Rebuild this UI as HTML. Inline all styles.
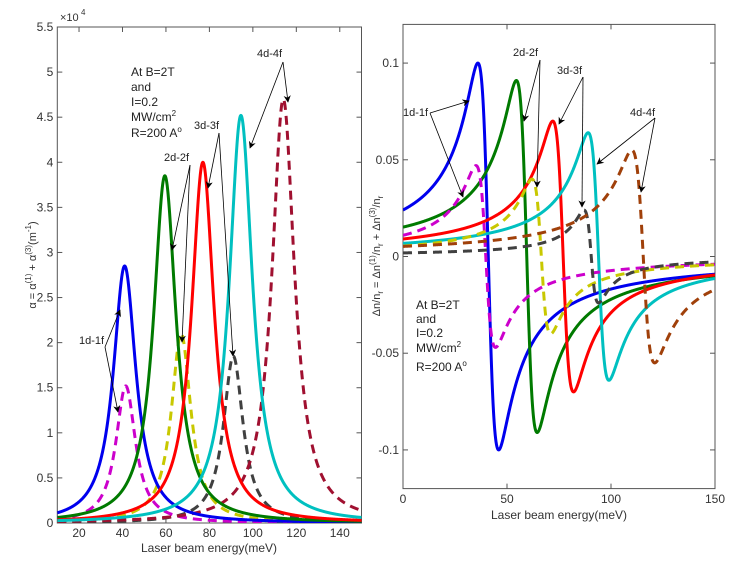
<!DOCTYPE html>
<html><head><meta charset="utf-8"><style>
body{margin:0;background:#fff;}
svg text{font-family:"Liberation Sans",sans-serif;}
</style></head><body>
<svg id="c" width="736" height="559" xmlns="http://www.w3.org/2000/svg"></svg>
<script>
// ---- Left panel data: absorption peaks (x1e4 m^-1) ----
const leftNames = ["1d-1f","1d-1f (3rd)","2d-2f","2d-2f (3rd)","3d-3f","3d-3f (3rd)","4d-4f","4d-4f (3rd)"];
const leftCenters = [41, 41.5, 59.5, 67, 77, 91, 94.5, 114];
const leftHeights = [2.85, 1.52, 3.85, 2.1, 4.0, 1.85, 4.52, 4.7];
const leftWidths = [6.3, 5.5, 6.3, 5.5, 6.3, 5.5, 6.5, 6.3];
const seriesColors = ["#0000ee","#cc00cc","#007a00","#c8c800","#ff0000","#404040","#00c0c0","#a01030"];
const seriesDashed = [false,true,false,true,false,true,false,true];
const leftXTicks = [20,40,60,80,100,120,140];
const leftYTicks = [0,0.5,1,1.5,2,2.5,3,3.5,4,4.5,5,5.5];
// ---- Right panel data: refractive index change ----
const rightCenters = [41, 39.8, 59.5, 66.5, 77, 90.5, 94, 115.5];
const rightPeaks = [0.1, 0.047, 0.091, 0.04, 0.07, 0.024, 0.064, 0.055];
const rightWidths = [5, 4.7, 5, 4.5, 5, 3.5, 5, 5.5];
const rightColors = ["#0000ee","#cc00cc","#007a00","#c8c800","#ff0000","#404040","#00c0c0","#a0400a"];
const rightXTicks = [0,50,100,150];
const rightYTicks = [-0.1,-0.05,0,0.05,0.1];

const svg=document.getElementById('c');
const NS="http://www.w3.org/2000/svg";
function mk(tag,attrs,parent){const e=document.createElementNS(NS,tag);for(const k in attrs)e.setAttribute(k,attrs[k]);(parent||svg).appendChild(e);return e;}
function txt(x,y,s,opt,name){const t=mk('text',Object.assign({x:x,y:y,'font-size':12,fill:'#222'},opt||{}));t.textContent=s;


return t;}

const L={x0:57.3,x1:361.5,y0:523,y1:27,xmin:10,xmax:150,ymin:0,ymax:5.5};
const R={x0:403,x1:715,y0:488.6,y1:24.4,xmin:0,xmax:150,ymin:-0.12,ymax:0.12};
function sx(A,v){return A.x0+(v-A.xmin)/(A.xmax-A.xmin)*(A.x1-A.x0);}
function sy(A,v){return A.y0-(v-A.ymin)/(A.ymax-A.ymin)*(A.y0-A.y1);}

function axes(A,xt,yt,fmt,name,xlabY){
  const g=mk('g',{});
  
  
  mk('rect',{x:A.x0,y:A.y1,width:A.x1-A.x0,height:A.y0-A.y1,fill:'none',stroke:'#555','stroke-width':1},g);
  xt.forEach(v=>{const x=sx(A,v);
    mk('line',{x1:x,y1:A.y0,x2:x,y2:A.y0-5,stroke:'#555'},g);
    mk('line',{x1:x,y1:A.y1,x2:x,y2:A.y1+5,stroke:'#555'},g);
    txt(x,xlabY,String(v),{'text-anchor':'middle','font-size':12,fill:'#333'},'x-tick-label');});
  yt.forEach(v=>{const y=sy(A,v);
    mk('line',{x1:A.x0,y1:y,x2:A.x0+5,y2:y,stroke:'#555'},g);
    mk('line',{x1:A.x1,y1:y,x2:A.x1-5,y2:y,stroke:'#555'},g);
    txt(A.x0-4,y+4,fmt(v),{'text-anchor':'end','font-size':12,fill:'#333'},'y-tick-label');});
}
axes(L,leftXTicks,leftYTicks,v=>String(v),'left-axes',537);
axes(R,rightXTicks,rightYTicks,v=>String(v),'right-axes',503);
txt(60,21,'×10',{'font-size':11,fill:'#333'},'y-scale-factor');
txt(81,15,'4',{'font-size':8,fill:'#333'},'y-scale-exponent');

function drawSeries(A,f,color,dashed,name,clip){
  let d='';
  for(let i=0;i<=1400;i++){const e=A.xmin+(A.xmax-A.xmin)*i/1400;const v=f(e);
    d+=(i?'L':'M')+sx(A,e).toFixed(2)+','+sy(A,v).toFixed(2);}
  const p=mk('path',{d:d,fill:'none',stroke:color,'stroke-width':3,'stroke-linejoin':'round','clip-path':clip});
  if(dashed)p.setAttribute('stroke-dasharray','9,6');
  
  
}
mk('clipPath',{id:'cl'}).appendChild(document.createElementNS(NS,'rect'));
const cl=document.querySelector('#cl rect');cl.setAttribute('x',L.x0);cl.setAttribute('y',L.y1);cl.setAttribute('width',L.x1-L.x0);cl.setAttribute('height',L.y0-L.y1);
mk('clipPath',{id:'cr'}).appendChild(document.createElementNS(NS,'rect'));
const cr=document.querySelector('#cr rect');cr.setAttribute('x',R.x0);cr.setAttribute('y',R.y1);cr.setAttribute('width',R.x1-R.x0);cr.setAttribute('height',R.y0-R.y1);

const order=[1,3,5,7,0,2,4,6];
order.forEach(i=>{
  drawSeries(L,e=>leftHeights[i]/(1+Math.pow((e-leftCenters[i])/leftWidths[i],2)),seriesColors[i],seriesDashed[i],'left-curve-'+leftNames[i].replace(/[^a-z0-9]+/gi,'-'),'url(#cl)');
});
[0,2,4,6,1,3,5,7].forEach(i=>{
  const g=rightWidths[i],A=2*g*rightPeaks[i];
  drawSeries(R,e=>A*(rightCenters[i]-e)/((e-rightCenters[i])**2+g*g),rightColors[i],seriesDashed[i],'right-curve-'+leftNames[i].replace(/[^a-z0-9]+/gi,'-'),'url(#cr)');
});

mk('defs',{}).innerHTML='<marker id="ah" viewBox="0 0 10 10" refX="9" refY="5" markerWidth="9" markerHeight="9" orient="auto"><path d="M0,0 L10,5 L0,10 L3,5 z" fill="#000"/></marker>';
function arrow(x1,y1,x2,y2){const l=mk('line',{x1:x1,y1:y1,x2:x2,y2:y2,stroke:'#000','stroke-width':0.8,'marker-end':'url(#ah)'});

}
txt(257,57,'4d-4f',{'font-size':11},'label-4d-4f');arrow(283,62,250,148);arrow(283,62,288,102);
txt(194,129,'3d-3f',{'font-size':11},'label-3d-3f');arrow(219,133,208,188);arrow(219,133,233,356);
txt(164,161,'2d-2f',{'font-size':11},'label-2d-2f');arrow(190,165,172,250);arrow(190,165,182,342);
txt(79,344,'1d-1f',{'font-size':11},'label-1d-1f');arrow(105,347,120,310);arrow(105,347,118,412);

function cond(x,ys,name){
  const t=[['At B=2T'],['and'],['I=0.2'],['MW/cm','2'],['R=200 A','o']];
  t.forEach((a,k)=>{const e=txt(x,ys[k],a[0],{'font-size':12},name);
    if(a[1]){const s=document.createElementNS(NS,'tspan');s.setAttribute('dy','-5');s.setAttribute('font-size','8');s.textContent=a[1];e.appendChild(s);}});
}
cond(131,[76,91,106,121,137],'condition-text');

txt(403,116,'1d-1f',{'font-size':11},'label-1d-1f-right');arrow(430,113,469,101);arrow(430,113,463,197);
txt(513,56,'2d-2f',{'font-size':11},'label-2d-2f-right');arrow(540,60,524,121);arrow(540,60,537,187);
txt(557,74,'3d-3f',{'font-size':11},'label-3d-3f-right');arrow(583,77,559,124);arrow(583,77,582,207);
txt(630,116,'4d-4f',{'font-size':11},'label-4d-4f-right');arrow(655,118,597,164);arrow(655,118,641,192);
cond(416,[309,323,337,352,371],'condition-text-right');

txt(209,552,'Laser beam energy(meV)',{'text-anchor':'middle','font-size':12,fill:'#333'},'left-x-axis-title');
txt(559,519,'Laser beam energy(meV)',{'text-anchor':'middle','font-size':12,fill:'#333'},'right-x-axis-title');
const yl=txt(0,0,'',{'text-anchor':'middle','font-size':11,fill:'#333',transform:'translate(36,265) rotate(-90)'},'left-y-axis-title');
yl.innerHTML='α = α<tspan dy="-5" font-size="8">(1)</tspan><tspan dy="5"> + α</tspan><tspan dy="-5" font-size="8">(3)</tspan><tspan dy="5">(m</tspan><tspan dy="-5" font-size="8">-1</tspan><tspan dy="5">)</tspan>';
const yr=txt(0,0,'',{'text-anchor':'middle','font-size':11,fill:'#333',transform:'translate(380,256) rotate(-90)'},'right-y-axis-title');
yr.innerHTML='Δn/n<tspan dy="3" font-size="8">r</tspan><tspan dy="-3"> = Δn</tspan><tspan dy="-5" font-size="8">(1)</tspan><tspan dy="5">/n</tspan><tspan dy="3" font-size="8">r</tspan><tspan dy="-3"> + Δn</tspan><tspan dy="-5" font-size="8">(3)</tspan><tspan dy="5">/n</tspan><tspan dy="3" font-size="8">r</tspan>';
</script>
</body></html>
